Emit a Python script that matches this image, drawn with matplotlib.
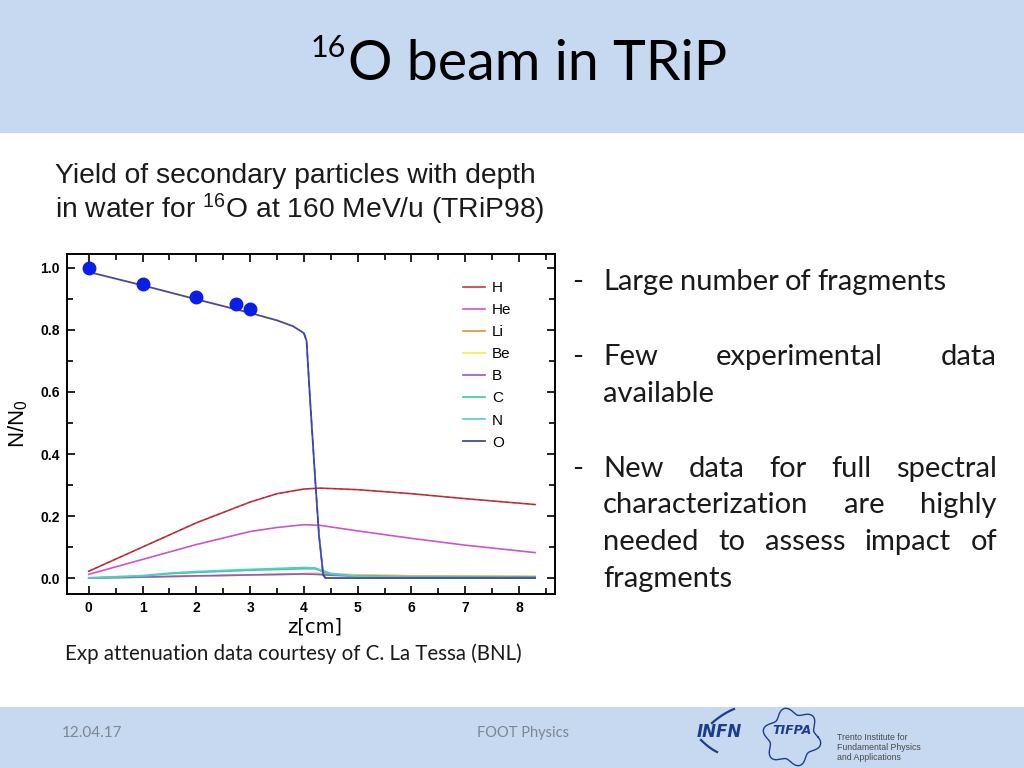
"""16O beam in TRiP - fragment yields vs depth (slide recreation)"""

import numpy as np
import matplotlib.pyplot as plt
from matplotlib.patches import Rectangle
from matplotlib.ticker import MultipleLocator

plt.rcParams["mathtext.fontset"] = "custom"
plt.rcParams["mathtext.rm"] = "Liberation Sans"
plt.rcParams["mathtext.it"] = "Liberation Sans:italic"
plt.rcParams["mathtext.bf"] = "Liberation Sans:bold"

# ---- data ----
z_O = [0, 1, 2, 3, 3.5, 3.8, 4.0, 4.05, 4.11, 4.21, 4.28, 4.36, 4.4, 8.3]
n_O = [0.987, 0.944, 0.899, 0.855, 0.831, 0.812, 0.790, 0.765, 0.59, 0.32, 0.14, 0.01, 0.0, 0.0]

z_H = [0, 1, 2, 3, 3.5, 4.0, 4.3, 5, 6, 7, 8.3]
n_H = [0.022, 0.10, 0.178, 0.245, 0.272, 0.287, 0.29, 0.285, 0.272, 0.256, 0.237]
n_He = [0.012, 0.06, 0.108, 0.15, 0.163, 0.172, 0.17, 0.152, 0.128, 0.106, 0.082]

z_frag = [0, 1, 1.5, 2, 3, 4.0, 4.2, 4.5, 5, 6, 8.3]
n_C = [0.0, 0.006, 0.014, 0.018, 0.025, 0.030, 0.030, 0.012, 0.005, 0.003, 0.002]
n_N = [0.001, 0.008, 0.016, 0.021, 0.028, 0.034, 0.033, 0.015, 0.006, 0.003, 0.002]
n_B = [0.0, 0.003, 0.005, 0.007, 0.010, 0.013, 0.012, 0.009, 0.006, 0.005, 0.004]
n_Li = [0.0, 0.003, 0.005, 0.006, 0.010, 0.014, 0.015, 0.013, 0.010, 0.007, 0.005]
n_Be = [0.0, 0.003, 0.004, 0.006, 0.009, 0.012, 0.013, 0.011, 0.009, 0.007, 0.005]

z_exp = [0, 1, 2, 2.74, 3.0]
n_exp = [1.0, 0.947, 0.905, 0.884, 0.869]

bullets = [
   (["-"], ["Large", "number", "of", "fragments"], False, 290),
   (["-"], ["Few", "experimental", "data"], True, 365),
   ([], ["available"], False, 402),
   (["-"], ["New", "data", "for", "full", "spectral"], True, 477),
   ([], ["characterization", "are", "highly"], True, 513),
   ([], ["needed", "to", "assess", "impact", "of"], True, 550),
   ([], ["fragments"], False, 587),
]

blue_bg = "#c6d9f0"
text_dark = "#1a1a1a"
bsize = 21

fig = plt.figure(figsize=(10.24, 7.68), dpi=100)
fig.patch.set_facecolor("white")

# background axes in pixel coordinates (origin top-left)
bg = fig.add_axes([0, 0, 1, 1])
bg.set_xlim(0, 1024)
bg.set_ylim(768, 0)
bg.axis("off")
bg.add_patch(Rectangle((0, 0), 1024, 133, color=blue_bg, lw=0))
bg.add_patch(Rectangle((0, 707), 1024, 61, color=blue_bg, lw=0))

# title
bg.text(348, 80, "O beam in TRiP", fontsize=40, family="Lato", color="black", va="baseline")
bg.text(346, 57, "16", fontsize=22, family="Lato", color="black", va="baseline", ha="right")

# caption above plot
bg.text(55, 183, "Yield of secondary particles with depth", fontsize=20.3,
        family="Liberation Sans", color=text_dark, va="baseline")
bg.text(55, 218, r"in water for $^{16}$O at 160 MeV/u (TRiP98)", fontsize=20.3,
        family="Liberation Sans", color=text_dark, va="baseline")

bg.text(65, 660, "Exp attenuation data courtesy of C. La Tessa (BNL)", fontsize=14.8,
        family="Lato", color=text_dark, va="baseline")

# bullet text, justified between x0 and x1
renderer = fig.canvas.get_renderer()
x0, x1 = 603, 997
for dash, words, just, y in bullets:
   if dash:
      bg.text(572, y, "-", fontsize=bsize, family="Lato", color=text_dark, va="baseline")
   ts = [bg.text(x0, y, w, fontsize=bsize, family="Lato", color=text_dark, va="baseline") for w in words]
   widths = [t.get_window_extent(renderer).width for t in ts]
   if just and len(ts) > 1:
      gap = (x1 - x0 - sum(widths)) / (len(ts) - 1)
   else:
      gap = 6
   x = x0
   for t, w in zip(ts, widths):
      t.set_x(x)
      x += w + gap

# footer
bg.text(62, 733, "12.04.17", fontsize=11, family="Lato", color="#7d8794", va="center")
bg.text(523, 733, "FOOT Physics", fontsize=10.5, family="Lato", color="#7d8794", va="center", ha="center")

# INFN logo
bg.text(719, 732, "INFN", fontsize=12, family="DejaVu Sans", style="italic", weight="bold",
        color="#1d3c8f", ha="center", va="center")
t = np.linspace(0, 1, 30)
bg.plot(712 + 22 * t, 723 - 14 * t - 5 * t * (1 - t), color="#1d3c8f", lw=1.6)
bg.plot(701 + 16 * t, 740 + 12 * t + 4 * t * (1 - t), color="#1d3c8f", lw=1.6)

# TIFPA logo
th = np.linspace(0, 2 * np.pi, 300)
r = 26 + 3.5 * np.sin(6 * th)
bg.plot(792 + r * np.cos(th), 737 + r * np.sin(th), color="#1d3c8f", lw=1.0)
bg.text(792, 731, "TIFPA", fontsize=9, family="DejaVu Sans", style="italic", weight="bold",
        color="#1d3c8f", ha="center", va="center")
for i, line in enumerate(["Trento Institute for", "Fundamental Physics", "and Applications"]):
   bg.text(837, 738 + 10 * i, line, fontsize=6.3, family="Liberation Sans", color="#4a4a4a", va="center")

# ---- the physics plot ----
ax = fig.add_axes([67 / 1024, 1 - 594 / 768, 488 / 1024, 340.3 / 768])
ax.set_facecolor("white")

ax.plot(z_H, n_H, color="#cc3344", lw=1.2, label="H")
ax.plot(z_H, n_He, color="#cc55cc", lw=1.2, label="He")
ax.plot(z_frag, n_Li, color="#cc9933", lw=1.2, label="Li")
ax.plot(z_frag, n_Be, color="#eeee55", lw=1.2, label="Be")
ax.plot(z_frag, n_B, color="#9955cc", lw=1.2, label="B")
ax.plot(z_frag, n_C, color="#33cc99", lw=1.2, label="C")
ax.plot(z_frag, n_N, color="#55cccc", lw=1.2, label="N")
ax.plot(z_O, n_O, color="#4a4a8c", lw=1.3, label="O")
ax.plot(z_O[6:13], n_O[6:13], color="#2244ee", lw=1.0, ls=(0, (4, 3)))
ax.plot(z_H, n_H, color="#662222", lw=0.6, ls=(0, (4, 4)), alpha=0.5)
ax.plot(z_exp, n_exp, "o", color="#0a1ee8", ms=9, zorder=5)

ax.set_xlim(-0.405, 8.67)
ax.set_ylim(-0.0515, 1.046)
ax.xaxis.set_major_locator(MultipleLocator(1))
ax.xaxis.set_minor_locator(MultipleLocator(0.5))
ax.yaxis.set_major_locator(MultipleLocator(0.2))
ax.yaxis.set_minor_locator(MultipleLocator(0.1))
ax.tick_params(which="both", direction="in", top=True, right=True, width=1.2, colors="black")
ax.tick_params(which="major", length=6, pad=5)
ax.tick_params(which="minor", length=4)
for s in ax.spines.values():
   s.set_linewidth(1.4)
ax.set_xticks(range(0, 9))
ax.set_yticks([0.0, 0.2, 0.4, 0.6, 0.8, 1.0])
ax.set_yticklabels(["0.0", "0.2", "0.4", "0.6", "0.8", "1.0"])
for lab in ax.get_xticklabels() + ax.get_yticklabels():
   lab.set_fontweight("bold")
   lab.set_fontsize(10)
   lab.set_family("Liberation Sans")

ax.set_xlabel("z[cm]", fontsize=14, family="DejaVu Sans")
ax.xaxis.set_label_coords(0.508, -0.068)
ax.set_ylabel(r"N/N$_0$", fontsize=16, family="Liberation Sans")
ax.yaxis.set_label_coords(-0.076, 0.5)

leg = ax.legend(loc="upper left", bbox_to_anchor=(463 / 1024, 1 - 281 / 768),
                bbox_transform=fig.transFigure, frameon=False,
                handlelength=1.44, handletextpad=0.45, labelspacing=0.53, borderpad=0,
                borderaxespad=0, prop={"family": "Liberation Sans", "size": 11})

fig.savefig("out.png", dpi=100, facecolor="white")
